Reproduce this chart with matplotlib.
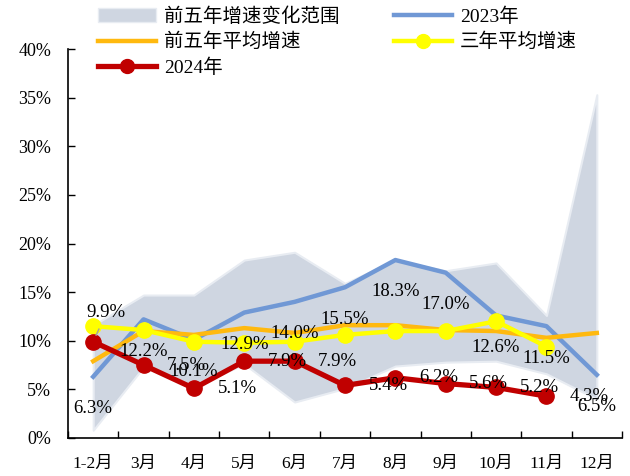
import matplotlib
matplotlib.use("Agg")
import matplotlib.pyplot as plt
from matplotlib.patches import Patch
from matplotlib.lines import Line2D
import numpy as np

plt.rcParams["font.family"] = ["Liberation Serif", "Noto Sans CJK SC"]

months = ["1-2月", "3月", "4月", "5月", "6月", "7月", "8月", "9月", "10月", "11月", "12月"]
band_low = [0.8, 7.3, 5.3, 7.6, 3.7, 5.1, 7.4, 7.8, 7.9, 6.6, 4.0]
band_high = [11.6, 14.7, 14.7, 18.3, 19.1, 15.9, 18.3, 17.2, 18.0, 12.6, 35.3]
y2023 = [6.3, 12.2, 10.1, 12.9, 14.0, 15.5, 18.3, 17.0, 12.6, 11.5, 6.5]
avg5 = [7.9, 11.0, 10.6, 11.3, 10.8, 11.6, 11.6, 11.1, 11.0, 10.3, 10.8]
avg3 = [11.5, 11.1, 9.9, 9.8, 9.9, 10.6, 11.0, 11.0, 12.0, 9.4]
y2024 = [9.9, 7.5, 5.1, 7.9, 7.9, 5.4, 6.2, 5.6, 5.2, 4.3]

C_BAND = "#CFD6E1"
C_BLUE = "#7098D5"
C_ORANGE = "#FFB90F"
C_YELLOW = "#FFFF00"
C_RED = "#C00000"

fig = plt.figure(figsize=(6.3, 4.76), dpi=100)
ax = fig.add_axes([68 / 630, 38 / 476, 554 / 630, 389 / 476])

x = np.arange(len(months))
ax.fill_between(x, band_low, band_high, facecolor=C_BAND, edgecolor="#E8ECF2",
                linewidth=1.5, zorder=1)
ax.plot(x, y2023, color=C_BLUE, lw=3.2, zorder=2)
ax.plot(x, avg5, color=C_ORANGE, lw=3.2, zorder=3)
x3 = np.arange(len(avg3))
ax.plot(x3, avg3, color=C_YELLOW, lw=3.2, marker="o", ms=11, zorder=4)
x4 = np.arange(len(y2024))
ax.plot(x4, y2024, color=C_RED, lw=3.8, marker="o", ms=11, zorder=5)

fs = 13.5
for xi, v in zip(x, y2023):
    ax.annotate(f"{v:.1f}%", (xi, v), xytext=(0, -23), textcoords="offset points",
                ha="center", va="center", fontsize=fs, zorder=6)
for xi, v in zip(x4, y2024):
    if xi == 0:
        ax.annotate(f"{v:.1f}%", (xi, v), xytext=(9.5, 21), textcoords="offset points",
                    ha="center", va="center", fontsize=fs, zorder=6,
                    arrowprops=dict(arrowstyle="-", color="#A0A0A0", lw=1,
                                    shrinkA=4, shrinkB=5))
    else:
        ax.annotate(f"{v:.1f}%", (xi, v), xytext=(31, 0), textcoords="offset points",
                    ha="center", va="center", fontsize=fs, zorder=6)

ax.set_xlim(-0.5, len(months) - 0.5)
ax.set_ylim(0, 40)
ax.set_yticks(range(0, 41, 5))
ax.set_yticklabels([f"{v}%" for v in range(0, 41, 5)], fontsize=13)
ax.set_xticks(np.arange(-0.5, len(months), 1))
ax.set_xticklabels([])
ax.set_xticks(x, minor=True)
ax.set_xticklabels(months, minor=True, fontsize=12.5)
ax.tick_params(axis="x", which="major", direction="in", length=5, width=1)
ax.tick_params(axis="x", which="minor", length=0, pad=13)
ax.tick_params(axis="y", direction="in", length=5, width=1, pad=12)
ax.spines[["top", "right"]].set_visible(False)
for s in ("left", "bottom"):
    ax.spines[s].set_linewidth(1.2)

handles = [
    Patch(facecolor=C_BAND, edgecolor="#E8ECF2"),
    Line2D([], [], color=C_ORANGE, lw=3.2),
    Line2D([], [], color=C_RED, lw=3.8, marker="o", ms=10),
    Line2D([], [], color=C_BLUE, lw=3.2),
    Line2D([], [], color=C_YELLOW, lw=3.2, marker="o", ms=10),
]
labels = ["前五年增速变化范围", "前五年平均增速", "2024年", "2023年", "三年平均增速"]
fig.legend(handles, labels, ncol=2, loc="upper left", bbox_to_anchor=(98 / 630, 1 - 7 / 476),
           frameon=False, fontsize=14, handlelength=3.0, handletextpad=0.4,
           columnspacing=2.8, labelspacing=0.38, borderpad=0, borderaxespad=0)

fig.savefig("out.png", dpi=100)
